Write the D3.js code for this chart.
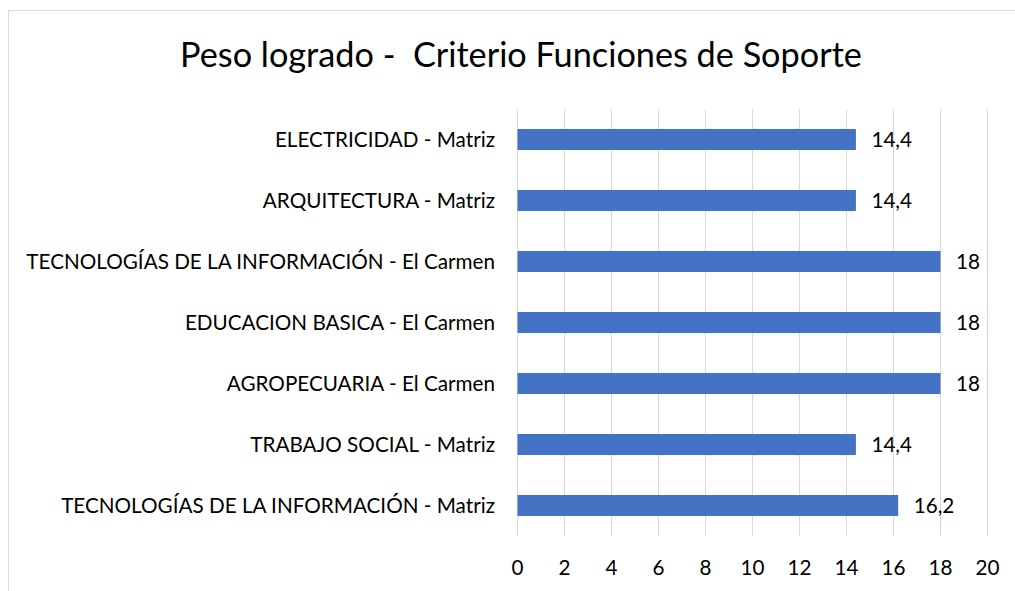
<!DOCTYPE html>
<html>
<head>
<meta charset="utf-8">
<script src="https://cdn.jsdelivr.net/npm/d3@7"></script>
<style>
  body { margin: 0; background: #fff; }
  text { font-family: Lato, "Open Sans", sans-serif; fill: #000; }
</style>
</head>
<body>
<svg width="1015" height="591"></svg>
<script>
// Data
const categories = [
  "ELECTRICIDAD - Matriz",
  "ARQUITECTURA - Matriz",
  "TECNOLOGÍAS DE LA INFORMACIÓN - El Carmen",
  "EDUCACION BASICA - El Carmen",
  "AGROPECUARIA - El Carmen",
  "TRABAJO SOCIAL - Matriz",
  "TECNOLOGÍAS DE LA INFORMACIÓN - Matriz"
];
const values = [14.4, 14.4, 18, 18, 18, 14.4, 16.2];
const xTicks = [0, 2, 4, 6, 8, 10, 12, 14, 16, 18, 20];
const title = "Peso logrado -  Criterio Funciones de Soporte";

const svg = d3.select("svg");
const margin = { left: 517, right: 28, top: 109, bottom: 55 };
const width = 1015, height = 591;

// chart frame
svg.append("rect")
  .attr("x", 8.5).attr("y", 10.5)
  .attr("width", 1100).attr("height", 700)
  .attr("fill", "none")
  .attr("stroke", "#d9d9d9")
  .attr("stroke-width", 1);

const x = d3.scaleLinear().domain([0, 20]).range([margin.left, 987]);
const y = d3.scaleBand().domain(categories)
  .range([margin.top, 536])
  .paddingInner(0.655).paddingOuter(0.3275);

// fit a text element's font size to a target width
function fitFont(sel, target, start) {
  sel.attr("font-size", start);
  const w = sel.node().getComputedTextLength();
  sel.attr("font-size", start * target / w);
  return start * target / w;
}

// Title
const t = svg.append("text")
  .attr("x", 521).attr("y", 67)
  .attr("text-anchor", "middle")
  .style("white-space", "pre")
  .attr("xml:space", "preserve")
  .text(title);
fitFont(t, 682, 30);

// gridlines
svg.append("g")
  .selectAll("line")
  .data(xTicks)
  .enter().append("line")
  .attr("x1", d => Math.round(x(d)) + 0.5)
  .attr("x2", d => Math.round(x(d)) + 0.5)
  .attr("y1", margin.top)
  .attr("y2", 536)
  .attr("stroke", "#d9d9d9")
  .attr("stroke-width", 1);

// bars
svg.append("g")
  .selectAll("rect")
  .data(values)
  .enter().append("rect")
  .attr("x", x(0) + 0.5)
  .attr("y", (d, i) => y(categories[i]))
  .attr("width", d => x(d) - x(0))
  .attr("height", y.bandwidth())
  .attr("fill", "#4472c4");

// category labels
const catG = svg.append("g");
const longest = catG.append("text").text(categories[2]);
const catSize = fitFont(longest, 469, 16);
longest.remove();
catG.selectAll("text")
  .data(categories)
  .enter().append("text")
  .attr("x", 495)
  .attr("y", d => y(d) + y.bandwidth() / 2)
  .attr("dy", "0.35em")
  .attr("text-anchor", "end")
  .attr("font-size", catSize)
  .text(d => d);

// value labels
svg.append("g")
  .selectAll("text")
  .data(values)
  .enter().append("text")
  .attr("x", d => x(d) + 16)
  .attr("y", (d, i) => y(categories[i]) + y.bandwidth() / 2)
  .attr("dy", "0.35em")
  .attr("font-size", catSize)
  .text(d => String(d).replace(".", ","));

// x axis tick labels
const xAxis = d3.axisBottom(x).tickValues(xTicks).tickSize(0).tickPadding(0);
const ax = svg.append("g")
  .attr("transform", "translate(0,560)")
  .call(xAxis);
ax.select(".domain").remove();
ax.selectAll("text")
  .attr("font-size", catSize)
  .attr("dy", "0.71em")
  .style("font-family", "Lato, 'Open Sans', sans-serif")
  .attr("fill", "#000");
</script>
</body>
</html>
